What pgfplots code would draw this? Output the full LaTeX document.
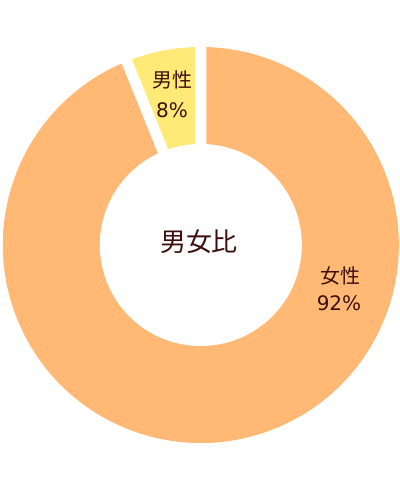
\documentclass[border=0pt]{standalone}
\usepackage{fontspec}
\setmainfont{Noto Sans CJK JP}
\newfontfamily\numfont{DejaVu Sans}
\usepackage{pgfplots}
\usepackage{pgfplotstable}
\pgfplotsset{compat=1.18}
\definecolor{femalec}{RGB}{255,185,116}
\definecolor{malec}{RGB}{255,234,120}
\definecolor{textc}{RGB}{62,14,14}

% pct = printed label, share = arc of the slice as drawn (%)
\pgfplotstableread{
slice pct share
male 8 6.1
female 92 93.9
}\gendertable

\begin{document}
\begin{tikzpicture}
\pgfplotstablegetelem{0}{share}\of\gendertable \pgfmathsetmacro\angM{\pgfplotsretval*3.6}
\pgfplotstablegetelem{1}{share}\of\gendertable \pgfmathsetmacro\angF{\pgfplotsretval*3.6}
\pgfplotstablegetelem{0}{pct}\of\gendertable \let\pctM\pgfplotsretval
\pgfplotstablegetelem{1}{pct}\of\gendertable \let\pctF\pgfplotsretval
\pgfmathsetmacro\aA{90}
\pgfmathsetmacro\aB{90+\angM}
\pgfmathsetmacro\aC{90+\angM+\angF}
\begin{axis}[
  width=300pt, height=367.5pt, scale only axis,
  xmin=0, xmax=400, ymin=0, ymax=490,
  hide axis, clip=false,
]
\coordinate (bl) at (axis cs:0,0);
\coordinate (tr) at (axis cs:400,490);
\coordinate (c) at (axis cs:200.8,245);
\fill[malec] (c) -- ++(\aA:148.5pt) arc[start angle=\aA, end angle=\aB, radius=148.5pt] -- cycle;
\fill[femalec] (c) -- ++(\aB:148.5pt) arc[start angle=\aB, end angle=\aC, radius=148.5pt] -- cycle;
\fill[white] (c) circle[radius=75.75pt];
\draw[white, line width=8.25pt] (c) -- ++(\aA:152pt) (c) -- ++(\aB:152pt);
\node[textc, font=\fontsize{15}{18}\selectfont] at (axis cs:172.5,410) {男性};
\node[textc, font=\numfont\fontsize{15}{18}\selectfont] at (axis cs:172,380) {\pctM\%};
\node[textc, font=\fontsize{15}{18}\selectfont] at (axis cs:340,214) {女性};
\node[textc, font=\numfont\fontsize{15}{18}\selectfont] at (axis cs:339,187) {\pctF\%};
\node[textc, font=\fontsize{19.5}{22}\selectfont] at (axis cs:199,248.3) {男女比};
\end{axis}
\pgfresetboundingbox
\path (bl) rectangle (tr);
\end{tikzpicture}
\end{document}
